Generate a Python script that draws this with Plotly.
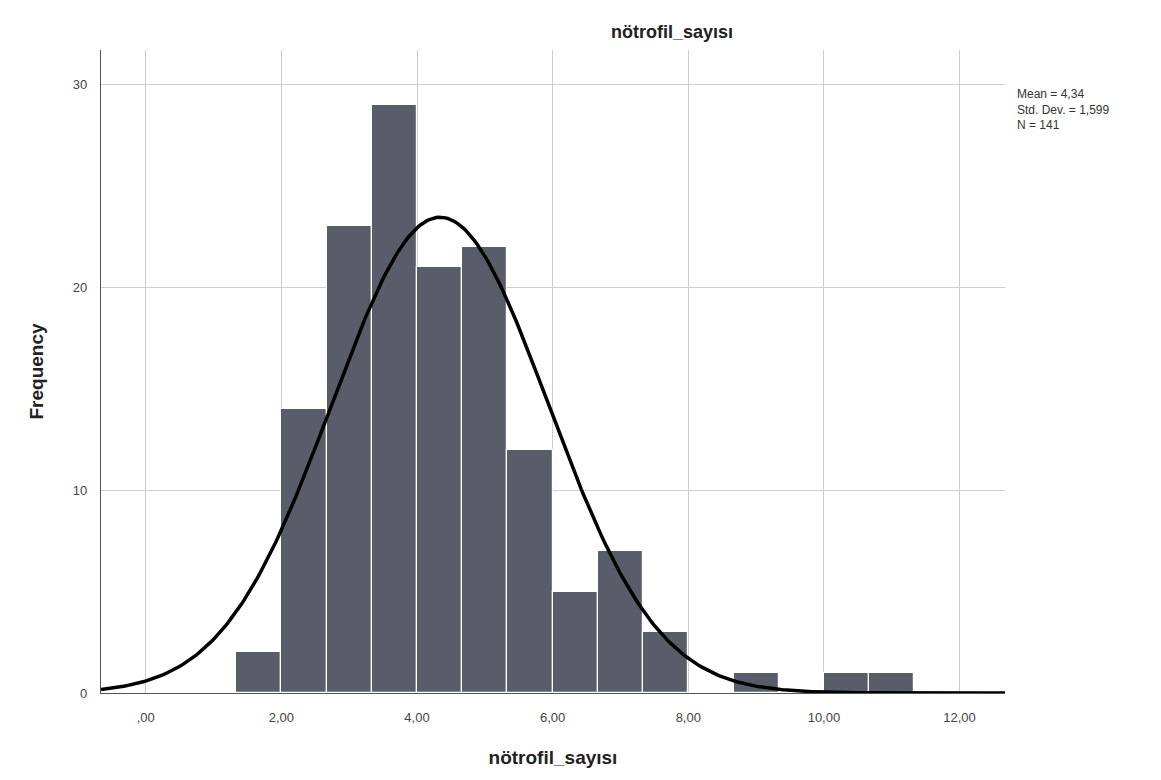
import numpy as np
import plotly.graph_objects as go

# Histogram data
bin_start = 4 / 3
bin_width = 2 / 3
counts = [2, 14, 23, 29, 21, 22, 12, 5, 7, 3, 0, 1, 0, 1, 1]

mean = 4.34
std_dev = 1.599
n_total = 141

x_tick_vals = [0, 2, 4, 6, 8, 10, 12]
x_tick_text = [",00", "2,00", "4,00", "6,00", "8,00", "10,00", "12,00"]
y_tick_vals = [0, 10, 20, 30]
y_tick_text = ["0", "10", "20", "30"]

title_text = "nötrofil_sayısı"
x_title = "nötrofil_sayısı"
y_title = "Frequency"

centers = [bin_start + bin_width * (i + 0.5) for i in range(len(counts))]

x_range = [-0.66, 12.67]
y_range = [0, 31.7]

# Normal curve implied by mean / sd / N
xs = np.linspace(x_range[0], x_range[1], 400)
ys = n_total * bin_width / (std_dev * np.sqrt(2 * np.pi)) * np.exp(-0.5 * ((xs - mean) / std_dev) ** 2)

fig = go.Figure()
fig.add_trace(go.Bar(
    x=centers, y=counts, width=bin_width,
    marker=dict(color="#595d69", line=dict(color="white", width=1.2)),
    hoverinfo="skip",
))
fig.add_trace(go.Scatter(
    x=xs, y=ys, mode="lines",
    line=dict(color="black", width=3.5),
    hoverinfo="skip", cliponaxis=True,
))

font_family = "Liberation Sans, Arial, sans-serif"

fig.update_layout(
    width=1161, height=780,
    margin=dict(l=101, r=156, t=50, b=87),
    paper_bgcolor="white", plot_bgcolor="white",
    showlegend=False,
    bargap=0,
    font=dict(family=font_family, color="#444444"),
    xaxis=dict(
        range=x_range, tickvals=x_tick_vals, ticktext=x_tick_text,
        showgrid=True, gridcolor="#cdcdcd", gridwidth=1,
        zeroline=False, showline=True, linecolor="#555555", linewidth=1.2,
        ticks="", tickfont=dict(size=13, color="#444444"), ticklabelstandoff=12,
        title=dict(text="<b>" + x_title + "</b>", font=dict(size=19, color="#222222", family=font_family), standoff=26),
    ),
    yaxis=dict(
        range=y_range, tickvals=y_tick_vals, ticktext=y_tick_text,
        showgrid=True, gridcolor="#cdcdcd", gridwidth=1,
        zeroline=False, showline=True, linecolor="#555555", linewidth=1.2,
        ticks="", tickfont=dict(size=13, color="#444444"), ticklabelstandoff=10,
        title=dict(text="<b>" + y_title + "</b>", font=dict(size=19, color="#222222", family=font_family), standoff=24),
    ),
)

fig.add_annotation(
    text="<b>" + title_text + "</b>", xref="paper", yref="paper",
    x=(672 - 101) / 904, y=1.0, yshift=6, xanchor="center", yanchor="bottom",
    showarrow=False, font=dict(size=18, color="#222222", family=font_family),
)

fig.add_annotation(
    text="Mean = 4,34<br>Std. Dev. = 1,599<br>N = 141",
    xref="paper", yref="paper", x=1.0, xshift=10, y=(693 - 85) / 643,
    xanchor="left", yanchor="top", align="left", showarrow=False,
    font=dict(size=12, color="#333333", family=font_family),
)

fig.write_html("out.html")
